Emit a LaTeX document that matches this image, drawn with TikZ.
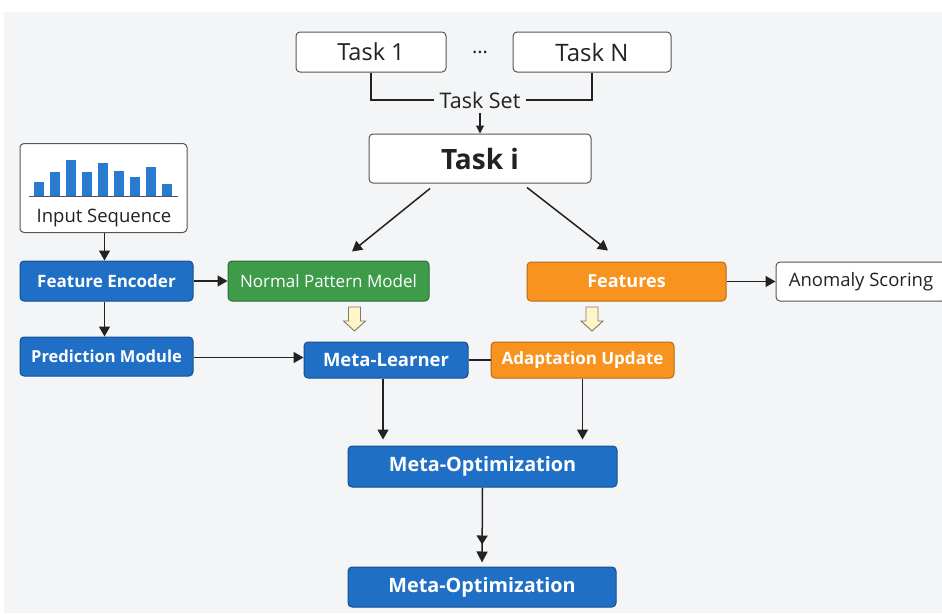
\documentclass[tikz,border=0pt]{standalone}
\usepackage{fontspec}
\setmainfont{Open Sans}
\usetikzlibrary{arrows.meta}
\definecolor{bg}{HTML}{F4F5F6}
\definecolor{bluef}{HTML}{1F6FC6}
\definecolor{blued}{HTML}{174F8F}
\definecolor{barf}{HTML}{2A7BD0}
\definecolor{greenf}{HTML}{3E9B4A}
\definecolor{greend}{HTML}{2B6E35}
\definecolor{orangef}{HTML}{F7931E}
\definecolor{oranged}{HTML}{B86A14}
\definecolor{cream}{HTML}{FFF5C8}
\definecolor{creamd}{HTML}{7E7A68}
\definecolor{ink}{HTML}{222222}
\definecolor{edge}{HTML}{555555}
\newcommand{\fsz}[1]{\fontsize{#1}{#1}\selectfont}
\begin{document}
\begin{tikzpicture}[x=1pt,y=-1pt,
  base/.style={rounded corners=4pt, line width=1pt, inner sep=0pt, align=center},
  whitebox/.style={base, draw=edge, fill=white, text=ink},
  bluebox/.style={base, draw=blued, fill=bluef, text=white},
  greenbox/.style={base, draw=greend, fill=greenf, text=white},
  orangebox/.style={base, draw=oranged, fill=orangef, text=white},
  arr/.style={draw=ink, line width=1.5pt, -{Triangle[length=10pt,width=11pt]}},
  plain/.style={draw=ink, line width=1.5pt},
  hollow/.style={draw=creamd, fill=cream, line width=0.9pt, line join=miter},
  bar/.style={fill=barf, draw=none}
]
\useasboundingbox (0,0) rectangle (942,613);
\fill[white] (0,0) rectangle (942,613);
\fill[bg] (4,12) rectangle (942,613);

% top tasks
\node[whitebox, minimum width=150, minimum height=40, font=\fsz{23.5}] (t1) at (371,52) {Task 1};
\node[whitebox, minimum width=158, minimum height=40, font=\fsz{24}] (tn) at (592,52) {Task N};
\node[text=ink, font=\fsz{20}] (dots) at (480,55) {···};
\node[fill=bg, inner sep=5pt, text=ink, font=\fsz{21.5}] (taskset) at (480,100) {Task Set};
\draw[plain, line width=1.1pt] (t1.south) |- (taskset.west);
\draw[plain, line width=1.1pt] (tn.south) |- (taskset.east);

\node[whitebox, minimum width=222, minimum height=49, font=\bfseries\fsz{28}] (ti) at (480,158.5) {Task i};
\draw[draw=ink, line width=1.1pt, -{Triangle[length=8pt,width=8pt]}] (taskset.south) -- (ti.north);

% input sequence
\node[whitebox, minimum width=167, minimum height=89] (inp) at (103.5,188) {};
\node[text=ink, font=\fsz{18.5}, anchor=base] (inptxt) at (104,222) {Input Sequence};
\fill[bar] (34,182) rectangle (44,196);
\fill[bar] (50,172) rectangle (60,196);
\fill[bar] (66,160) rectangle (76,196);
\fill[bar] (82,172) rectangle (92,196);
\fill[bar] (98,163) rectangle (108,196);
\fill[bar] (114,171) rectangle (124,196);
\fill[bar] (130,177) rectangle (140,196);
\fill[bar] (146,167) rectangle (156,196);
\fill[bar] (162,184) rectangle (172,196);
\draw[draw=edge, line width=1.2pt] (29,196.5) -- (178,196.5);

% main row
\node[bluebox, minimum width=173, minimum height=40, font=\bfseries\fsz{17}] (fe) at (106.5,281) {Feature Encoder};
\node[greenbox, minimum width=201, minimum height=40, font=\fsz{17}] (npm) at (328.5,281) {Normal Pattern Model};
\node[orangebox, minimum width=199, minimum height=39, font=\bfseries\fsz{18}] (feat) at (626.5,281.5) {Features};
\node[whitebox, minimum width=170, minimum height=39, font=\fsz{18.5}] (anom) at (861,281.5) {Anomaly Scoring};

\node[bluebox, minimum width=173, minimum height=39, font=\bfseries\fsz{16.5}] (pm) at (106.5,356.5) {Prediction Module};
\node[orangebox, minimum width=183, minimum height=36, font=\bfseries\fsz{17}] (au) at (582.5,360) {Adaptation Update};
\node[bluebox, minimum width=164, minimum height=36, font=\bfseries\fsz{18.5}] (ml) at (386,360) {Meta-Learner};

\node[bluebox, minimum width=269, minimum height=41, font=\bfseries\fsz{19.8}] (mo1) at (482.5,466.5) {Meta-Optimization};
\node[bluebox, minimum width=268, minimum height=40, font=\bfseries\fsz{19.8}] (mo2) at (482,587) {Meta-Optimization};

% connectors
\draw[arr] ([xshift=1pt]inp.south) -- ([xshift=1pt]inp.south |- fe.north);
\draw[arr] (fe.east) -- (npm.west);
\draw[arr] ([xshift=-2pt]fe.south) -- ([xshift=-2pt]fe.south |- pm.north);
\draw[arr] ([yshift=-1pt]pm.east) -- ([yshift=-1pt]pm.east -| ml.west);
\draw[plain] (ml.east) -- (au.west);
\draw[arr] ([xshift=-50pt,yshift=-5pt]ti.south) -- ([xshift=23.5pt,yshift=9pt]npm.north);
\draw[arr] ([xshift=47pt,yshift=-4pt]ti.south) -- ([xshift=-18.5pt,yshift=11pt]feat.north);
\draw[arr] (feat.east) -- (anom.west);
\draw[arr, shorten >=6pt] ([xshift=-3pt]ml.south) -- ([xshift=-3pt]ml.south |- mo1.north);
\draw[arr, shorten >=6pt] (au.south) -- (au.south |- mo1.north);
\draw[draw=ink, line width=1.5pt, shorten >=4pt, -{Triangle[length=9pt,width=11pt,sep=7pt]Triangle[length=11pt,width=11pt]}] (mo1.south) -- (mo2.north);

% hollow block arrows
\coordinate (ha1) at (354.5,307);
\coordinate (ha2) at (592,307);
\draw[hollow] (ha1) ++(-6,0) -- ++(12,0) -- ++(0,14) -- ++(5,0) -- ++(-11,10) -- ++(-11,-10) -- ++(5,0) -- cycle;
\draw[hollow] (ha2) ++(-6,0) -- ++(12,0) -- ++(0,14) -- ++(5,0) -- ++(-11,10) -- ++(-11,-10) -- ++(5,0) -- cycle;
\end{tikzpicture}
\end{document}
